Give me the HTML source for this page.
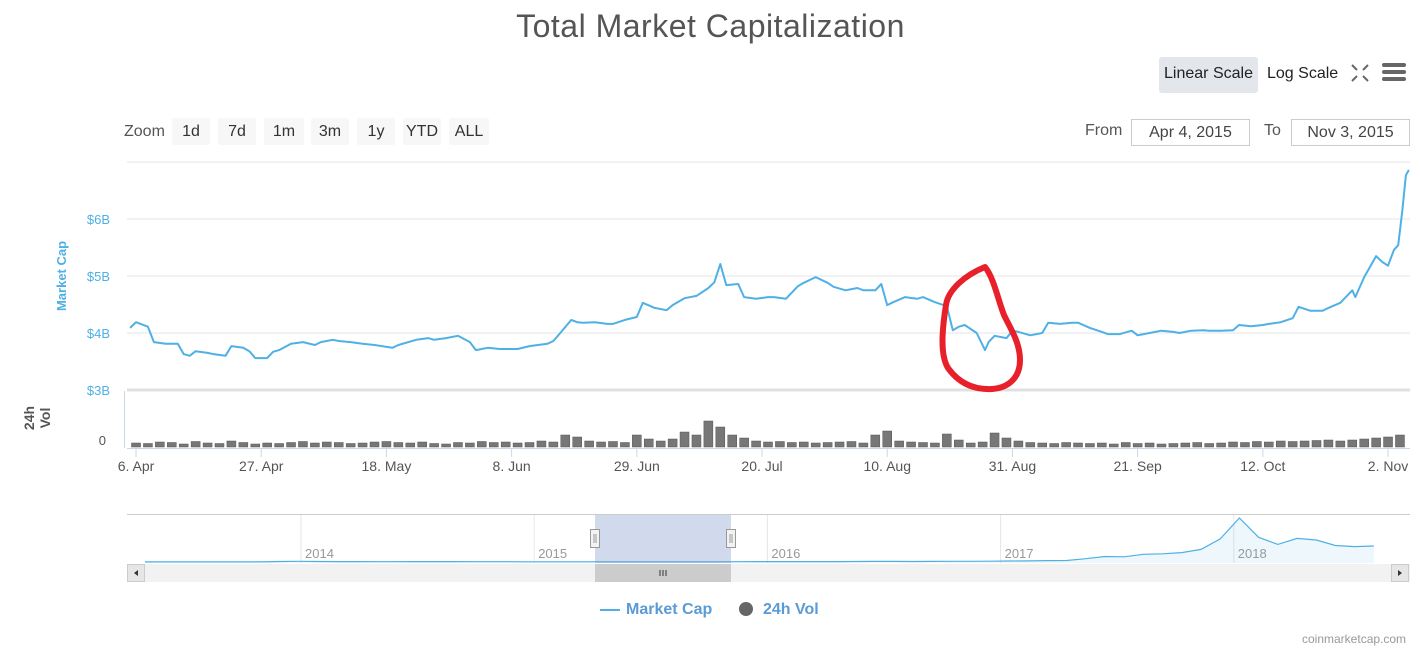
<!DOCTYPE html>
<html><head><meta charset="utf-8">
<style>
body{margin:0;background:#fff;font-family:"Liberation Sans",sans-serif;}
#wrap{position:relative;width:1421px;height:650px;overflow:hidden;}
.t{position:absolute;white-space:nowrap;}
.btn{position:absolute;top:118px;height:27px;background:#f7f7f7;font-size:16px;color:#333;text-align:center;line-height:27px;border-radius:2px;}
.box{position:absolute;top:119px;height:25px;border:1px solid #ccc;font-size:16px;color:#444;text-align:center;line-height:25px;}
</style></head><body>
<div id="wrap">
<div class="t" style="left:0;width:1421px;text-align:center;top:8px;font-size:32px;color:#555;letter-spacing:0.5px">Total Market Capitalization</div>
<div class="t" style="left:1159px;top:57px;width:99px;height:36px;background:#e3e6ea;border-radius:3px;font-size:16px;line-height:34px;text-align:center;color:#222">Linear Scale</div>
<div class="t" style="left:1267px;top:57px;height:36px;font-size:16px;line-height:34px;color:#222">Log Scale</div>
<svg class="t" style="left:1350px;top:63px" width="20" height="20"><g stroke="#666" stroke-width="2" fill="none"><path d="M2 2l5 5M18 2l-5 5M2 18l5-5M18 18l-5-5"/></g></svg>
<svg class="t" style="left:1382px;top:62px" width="24" height="20"><g fill="#666"><rect x="0" y="1" width="24" height="4" rx="2"/><rect x="0" y="8" width="24" height="4" rx="2"/><rect x="0" y="15" width="24" height="4" rx="2"/></g></svg>

<div class="t" style="left:124px;top:123px;font-size:16px;color:#555">Zoom</div>
<div class="btn" style="left:172px;width:38px">1d</div>
<div class="btn" style="left:218px;width:38px">7d</div>
<div class="btn" style="left:264px;width:40px">1m</div>
<div class="btn" style="left:311px;width:38px">3m</div>
<div class="btn" style="left:357px;width:38px">1y</div>
<div class="btn" style="left:403px;width:38px">YTD</div>
<div class="btn" style="left:449px;width:40px">ALL</div>
<div class="t" style="left:1085px;top:122px;font-size:16px;color:#555">From</div>
<div class="box" style="left:1131px;width:117px">Apr 4, 2015</div>
<div class="t" style="left:1264px;top:122px;font-size:16px;color:#555">To</div>
<div class="box" style="left:1291px;width:117px">Nov 3, 2015</div>

<svg class="t" id="chart" style="left:0;top:0" width="1421" height="650"></svg>

<div class="t" style="left:600px;top:601px;font-size:16px;font-weight:bold;color:#5b9bd5"><span style="display:inline-block;width:20px;height:2px;background:#4fb0e6;vertical-align:middle;margin-right:6px"></span>Market Cap</div>
<div class="t" style="left:739px;top:601px;font-size:16px;font-weight:bold;color:#5b9bd5"><span style="display:inline-block;width:14px;height:14px;border-radius:7px;background:#666;vertical-align:-2px;margin-right:10px"></span>24h Vol</div>
<div class="t" style="left:1302px;top:632px;font-size:12px;color:#999">coinmarketcap.com</div>
</div>
<script>
// Main series: day index from Apr 4 2015, market cap in $B
const capDays=[1,2,4,5,7,9,10,11,12,14,15,17,18,20,21,22,24,25,26,28,30,32,33,35,36,38,40,42,45,46,49,51,52,54,56,58,59,61,63,66,68,71,72,73,75,76,77,79,81,82,84,86,87,89,91,92,94,96,98,99,100,101,103,104,106,108,109,111,113,114,116,118,119,121,123,124,126,127,128,129,131,133,134,136,138,139,140,141,143,144.4,145,146,148,149,150,152,154,155,157,159,160,162,164,165,167,169,170,172,174,176,177,179,181,182,184,186,187,189,191,192,194,196,197,199,201,202,204,206,206.5,208,210,211,212,213,213.7,214.4,215,215.5];
const capValues=[4.09,4.19,4.11,3.84,3.81,3.81,3.63,3.60,3.68,3.65,3.63,3.60,3.77,3.74,3.68,3.56,3.56,3.67,3.70,3.81,3.84,3.79,3.84,3.88,3.86,3.84,3.81,3.79,3.74,3.79,3.88,3.91,3.88,3.91,3.95,3.84,3.70,3.74,3.72,3.72,3.77,3.81,3.86,3.98,4.23,4.19,4.18,4.19,4.16,4.16,4.23,4.28,4.53,4.44,4.40,4.49,4.61,4.65,4.79,4.89,5.21,4.84,4.86,4.63,4.60,4.63,4.63,4.60,4.82,4.88,4.98,4.88,4.81,4.75,4.79,4.75,4.75,4.86,4.49,4.54,4.63,4.60,4.63,4.54,4.47,4.05,4.11,4.14,4.00,3.70,3.84,3.95,3.91,4.04,4.02,3.96,4.00,4.18,4.16,4.18,4.18,4.09,4.02,3.98,3.98,4.04,3.96,4.00,4.04,4.02,4.00,4.04,4.05,4.04,4.04,4.05,4.14,4.12,4.14,4.16,4.19,4.26,4.46,4.39,4.39,4.44,4.53,4.75,4.63,4.98,5.35,5.25,5.18,5.46,5.54,6.16,6.77,6.86];
// 24h volume, every 2 days starting day 0, in $M
const volValues=[30,40,35,50,45,30,55,40,35,60,45,30,40,35,45,55,40,50,45,35,40,50,55,45,40,50,35,30,45,40,55,45,50,40,45,60,50,120,100,60,50,55,45,120,80,60,80,150,120,260,200,120,90,60,50,55,45,50,40,45,50,55,40,120,160,60,50,45,40,130,70,40,50,140,90,60,45,40,35,45,40,35,40,30,45,35,40,30,35,40,45,35,40,50,45,55,50,60,55,60,65,70,60,70,80,90,100,120,150,200,400];
const xTickDays=[2,23,44,65,86,107,128,149,170,191,212];
const xTickLabels=["6. Apr","27. Apr","18. May","8. Jun","29. Jun","20. Jul","10. Aug","31. Aug","21. Sep","12. Oct","2. Nov"];
const yTickValues=[3,4,5,6];
const yTickLabels=["$3B","$4B","$5B","$6B"];
// Navigator: monthly totals from Apr 2013, $B
const navValues=[1.3,1.2,1,1,1.5,1.7,2,10,12,10,8,7,6,6,8,8,7,6,5,5,4.5,4,3.5,3.5,3.5,3.8,3.9,4.5,4.3,4,4,6,6.5,7,7,7,7,9,11,11,10,11,12,13,15,18,20,25,28,60,100,95,140,150,170,230,420,800,450,320,430,400,300,280,290];
const navYearLabels=["2014","2015","2016","2017","2018"];

const NS="http://www.w3.org/2000/svg";
const svg=document.getElementById('chart');
function mk(tag,attrs,parent){const e=document.createElementNS(NS,tag);for(const k in attrs)e.setAttribute(k,attrs[k]);(parent||svg).appendChild(e);return e;}
const L=127,R=1410;
const xDay=d=>124.1+5.962*d;
const yCap=v=>390-(v-3)*57;
const yVol=v=>447-v*0.1;
[7,6,5,4].forEach(v=>{const g=mk('line',{x1:L,x2:R,y1:yCap(v),y2:yCap(v),stroke:'#e6e6e6','stroke-width':1});

});
const sep=mk('line',{x1:L,x2:R,y1:390,y2:390,stroke:'#e0e0e0','stroke-width':3});


const vax=mk('line',{x1:124.5,x2:124.5,y1:391,y2:448,stroke:'#ccd6eb'});


yTickValues.forEach((v,i)=>{const t=mk('text',{x:110,y:yCap(v)+5,'text-anchor':'end','font-size':13,fill:'#4fb0e6','font-family':'Liberation Sans'});t.textContent=yTickLabels[i];

});
const yt=mk('text',{x:0,y:0,transform:'translate(66,276) rotate(-90)','text-anchor':'middle','font-size':13,'font-weight':'bold',fill:'#4fb0e6','font-family':'Liberation Sans'});yt.textContent='Market Cap';


const vt=mk('text',{x:0,y:0,transform:'translate(34,418) rotate(-90)','text-anchor':'middle','font-size':14,'font-weight':'bold',fill:'#555','font-family':'Liberation Sans'});
mk('tspan',{x:0,dy:0},vt).textContent='24h';mk('tspan',{x:0,dy:16},vt).textContent='Vol';


const z=mk('text',{x:106,y:445,'text-anchor':'end','font-size':13,fill:'#555','font-family':'Liberation Sans'});z.textContent='0';


volValues.forEach((v,i)=>{const x=xDay(i*2);if(x<L||x>R)return;const b=mk('rect',{x:x-4.5,y:yVol(v),width:9,height:447-yVol(v),fill:'#777',stroke:'#555','stroke-width':0.5});

});
let d='';capDays.forEach((dd,i)=>{d+=(i?'L':'M')+xDay(dd).toFixed(1)+' '+yCap(capValues[i]).toFixed(1);});
const ln=mk('path',{d:d,fill:'none',stroke:'#4fb0e6','stroke-width':2,'stroke-linejoin':'round'});


const xa=mk('line',{x1:L,x2:R,y1:448.5,y2:448.5,stroke:'#ccd6eb'});


xTickDays.forEach((dd,i)=>{const x=xDay(dd);const tk=mk('line',{x1:x,x2:x,y1:449,y2:457,stroke:'#ccd6eb'});


const t=mk('text',{x:x,y:471,'text-anchor':'middle','font-size':14,fill:'#555','font-family':'Liberation Sans'});t.textContent=xTickLabels[i];

});
const nt=mk('line',{x1:L,x2:R,y1:514.5,y2:514.5,stroke:'#ccc'});


const navX=i=>145+i*19.2;const navY=v=>562-v*0.055;
navYearLabels.forEach((s,i)=>{const x=301+i*233.2;const g=mk('line',{x1:x,x2:x,y1:515,y2:563,stroke:'#e6e6e6'});


const t=mk('text',{x:x+4,y:558,'font-size':13,fill:'#999','font-family':'Liberation Sans'});t.textContent=s;

});
let nd='';navValues.forEach((v,i)=>{nd+=(i?'L':'M')+navX(i).toFixed(1)+' '+navY(v).toFixed(1);});
const na=mk('path',{d:nd+'L'+navX(navValues.length-1)+' 563L145 563Z',fill:'rgba(79,176,230,0.1)',stroke:'none'});


const nl=mk('path',{d:nd,fill:'none',stroke:'#4fb0e6','stroke-width':1.2});


const sel=mk('rect',{x:595,y:515,width:136,height:48,fill:'rgba(102,133,194,0.3)'});


[595,731].forEach(x=>{const h=mk('rect',{x:x-4.5,y:529.5,width:9,height:18,fill:'#f2f2f2',stroke:'#999'});


mk('line',{x1:x-1,x2:x-1,y1:534,y2:543,stroke:'#999'});mk('line',{x1:x+1,x2:x+1,y1:534,y2:543,stroke:'#999'});});
const sb=mk('rect',{x:127,y:564,width:1283,height:18,fill:'#f2f2f2'});


const th=mk('rect',{x:595,y:564,width:136,height:18,fill:'#cccccc'});


[660,663,666].forEach(x=>mk('line',{x1:x,x2:x,y1:570,y2:576,stroke:'#333'}));
const la=mk('rect',{x:127.5,y:564.5,width:17,height:17,fill:'#e6e6e6',stroke:'#ccc'});


mk('path',{d:'M138 570l-4 3 4 3z',fill:'#333'});
const ra=mk('rect',{x:1391.5,y:564.5,width:17,height:17,fill:'#e6e6e6',stroke:'#ccc'});


mk('path',{d:'M1398 570l4 3-4 3z',fill:'#333'});
const an=mk('path',{d:'M985 267 C965 275 948 290 946 305 C942 330 940 355 948 368 C958 382 972 390 992 389 C1008 388 1020 378 1020 360 C1020 342 1010 328 1004 315 C998 300 994 278 985 267 Z',fill:'none',stroke:'#e8202a','stroke-width':6,'stroke-linejoin':'round'});


</script>
</body></html>
